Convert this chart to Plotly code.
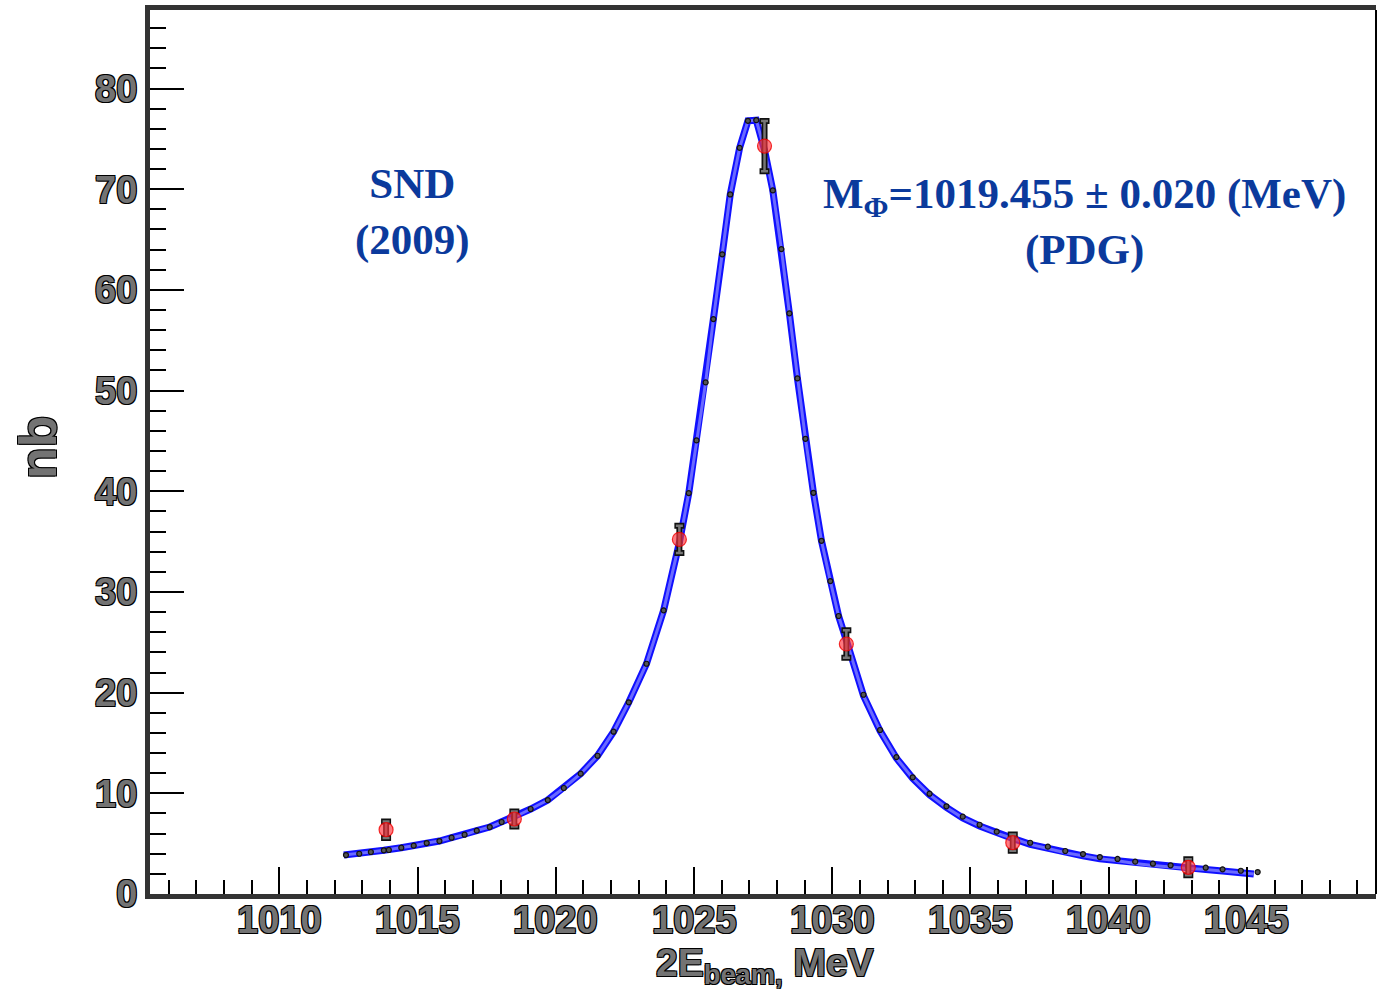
import plotly.graph_objects as go

# ---------------- data ----------------
# fit curve sample points (small dots)
dots_x = [1012.41, 1012.89, 1013.31, 1013.78, 1013.96, 1014.41, 1014.86, 1015.33, 1015.79, 1016.23,
          1016.70, 1017.14, 1017.61, 1018.04, 1018.48, 1019.09, 1019.71, 1020.29, 1020.90, 1021.51,
          1022.09, 1022.64, 1023.28, 1023.90, 1024.47, 1024.81, 1025.09, 1025.42, 1025.70, 1026.02,
          1026.31, 1026.65, 1026.95, 1027.25, 1027.55, 1027.85, 1028.16, 1028.45, 1028.74, 1029.03,
          1029.32, 1029.61, 1029.93, 1030.23, 1030.52, 1031.13, 1031.73, 1032.32, 1032.91, 1033.52,
          1034.13, 1034.72, 1035.33, 1035.95, 1036.55, 1037.16, 1037.80, 1038.43, 1039.07, 1039.68,
          1040.32, 1040.96, 1041.60, 1042.24, 1042.87, 1043.51, 1044.12, 1044.78, 1045.39]
dots_y = [3.87, 4.00, 4.17, 4.34, 4.37, 4.60, 4.80, 5.06, 5.26, 5.59,
          5.89, 6.29, 6.65, 7.15, 7.60, 8.44, 9.33, 10.53, 11.95, 13.73,
          16.12, 19.04, 22.87, 28.17, 34.90, 39.82, 45.05, 50.81, 57.10, 63.53,
          69.48, 74.11, 76.79, 76.86, 73.90, 69.88, 64.05, 57.67, 51.21, 45.21,
          39.85, 35.08, 31.08, 27.61, 25.20, 19.79, 16.29, 13.60, 11.59, 9.96,
          8.71, 7.68, 6.88, 6.19, 5.65, 5.09, 4.70, 4.27, 3.97, 3.67,
          3.48, 3.21, 3.01, 2.85, 2.70, 2.61, 2.45, 2.31, 2.18]

# fitted band (blue curve)
band_x = [1012.33, 1012.89, 1013.31, 1013.78, 1014.41, 1014.86, 1015.33, 1015.79, 1016.23,
          1016.70, 1017.14, 1017.61, 1018.04, 1018.48, 1019.09, 1019.71, 1020.29, 1020.90, 1021.51,
          1022.09, 1022.64, 1023.28, 1023.90, 1024.47, 1024.81, 1025.09, 1025.42, 1025.70, 1026.02,
          1026.31, 1026.65, 1026.95, 1027.25, 1027.55, 1027.85, 1028.16, 1028.45, 1028.74, 1029.03,
          1029.32, 1029.61, 1029.93, 1030.23, 1030.52, 1031.13, 1031.73, 1032.32, 1032.91, 1033.52,
          1034.13, 1034.72, 1035.33, 1035.95, 1036.55, 1037.16, 1037.80, 1038.43, 1039.07, 1039.68,
          1040.32, 1040.96, 1041.60, 1042.24, 1042.87, 1043.51, 1044.12, 1044.78, 1045.25]
band_y = [3.87, 4.00, 4.17, 4.34, 4.60, 4.80, 5.06, 5.26, 5.59,
          5.89, 6.29, 6.65, 7.15, 7.60, 8.44, 9.33, 10.53, 11.95, 13.73,
          16.12, 19.04, 22.87, 28.17, 34.90, 39.82, 45.05, 50.81, 57.10, 63.53,
          69.48, 74.11, 76.79, 76.86, 73.90, 69.88, 64.05, 57.67, 51.21, 45.21,
          39.85, 35.08, 31.08, 27.61, 25.10, 19.70, 16.20, 13.50, 11.49, 9.86,
          8.60, 7.56, 6.76, 6.05, 5.50, 4.93, 4.52, 4.09, 3.79, 3.49,
          3.30, 3.03, 2.84, 2.68, 2.53, 2.44, 2.28, 2.13, 1.99]

# SND measurements
data_x = [1013.86, 1018.50, 1024.47, 1027.55, 1030.51, 1036.53, 1042.88]
data_y = [6.39, 7.45, 35.22, 74.28, 24.83, 5.10, 2.65]
data_err = [0.82, 0.75, 1.35, 2.50, 1.37, 0.80, 0.80]

x_tickvals = [1010, 1015, 1020, 1025, 1030, 1035, 1040, 1045]
x_ticktext = ["1010", "1015", "1020", "1025", "1030", "1035", "1040", "1045"]
y_tickvals = [0, 10, 20, 30, 40, 50, 60, 70, 80]

# ---------------- figure ----------------
W, H = 1377, 989
L, R, T, B = 150, 1, 10, 95
PW, PH = W - L - R, H - T - B
outline = "-1px -1px 0 #000, 1px -1px 0 #000, -1px 1px 0 #000, 1px 1px 0 #000"
tickfont = dict(family="Liberation Sans, Arial", size=38, color="#737373", weight="bold", shadow=outline)

fig = go.Figure()

# blue band: outer edge + lighter interior
fig.add_trace(go.Scatter(x=band_x, y=band_y, mode="lines",
                         line=dict(color="#1010ff", width=7), hoverinfo="skip", showlegend=False))
fig.add_trace(go.Scatter(x=band_x, y=band_y, mode="lines",
                         line=dict(color="#6a6aff", width=3), hoverinfo="skip", showlegend=False))

# small dots on the curve
fig.add_trace(go.Scatter(x=dots_x, y=dots_y, mode="markers",
                         marker=dict(size=5, color="#555555", line=dict(color="#111111", width=1.2)),
                         showlegend=False))

# error bars (black outline + grey fill)
fig.add_trace(go.Scatter(x=data_x, y=data_y, mode="markers", marker=dict(size=1, opacity=0),
                         error_y=dict(type="data", array=data_err, color="#111111", thickness=6, width=5),
                         showlegend=False, hoverinfo="skip"))
fig.add_trace(go.Scatter(x=data_x, y=data_y, mode="markers", marker=dict(size=1, opacity=0),
                         error_y=dict(type="data", array=data_err, color="#777777", thickness=2.5, width=3.5),
                         showlegend=False, hoverinfo="skip"))

# red data points
fig.add_trace(go.Scatter(x=data_x, y=data_y, mode="markers",
                         marker=dict(size=14, color="rgba(255,50,60,0.65)",
                                     line=dict(color="rgba(240,0,0,0.8)", width=1.2)),
                         showlegend=False))

fig.update_layout(
    width=W, height=H,
    margin=dict(l=L, r=R, t=T, b=B),
    paper_bgcolor="white", plot_bgcolor="white",
    xaxis=dict(range=[1005.32, 1049.67], tickvals=x_tickvals, showticklabels=False,
               ticks="inside", ticklen=27, tickwidth=2, tickcolor="#000",
               minor=dict(dtick=1, tick0=1005, ticks="inside", ticklen=14, tickwidth=2, tickcolor="#000"),
               showgrid=False, zeroline=False,
               showline=True, linewidth=5, linecolor="#333333", mirror=True),
    yaxis=dict(range=[0, 87.8], tickvals=y_tickvals,
               ticks="inside", ticklen=34, tickwidth=2, tickcolor="#000",
               minor=dict(dtick=2, tick0=0, ticks="inside", ticklen=16, tickwidth=2, tickcolor="#000"),
               showgrid=False, zeroline=False,
               showline=True, linewidth=5, linecolor="#333333", mirror=False,
               tickfont=tickfont, ticklabelstandoff=0),
)

# x tick labels placed close under the axis (ROOT style)
for v, t in zip(x_tickvals, x_ticktext):
    fig.add_annotation(xref="x", yref="paper", x=v, y=0, yanchor="middle", xanchor="center",
                       yshift=-26, text=t, showarrow=False, font=tickfont)

# thin right frame border
fig.add_shape(type="line", xref="paper", yref="paper", x0=1, x1=1, y0=0, y1=1,
              line=dict(color="#000", width=2))

blue = "#0b3a9c"
serif = "Liberation Serif, Times New Roman, serif"
fig.add_annotation(xref="paper", yref="paper", x=(412 - L) / PW, y=(894 - 212) / PH,
                   xanchor="center", yanchor="middle",
                   text="SND<br>(2009)", showarrow=False, align="center",
                   font=dict(family=serif, size=43, color=blue, weight="bold"))
fig.add_annotation(xref="paper", yref="paper", x=(1084 - L) / PW, y=(894 - 222) / PH,
                   xanchor="center", yanchor="middle",
                   text="M<sub>Φ</sub>=1019.455 ± 0.020 (MeV)<br>(PDG)", showarrow=False, align="center",
                   font=dict(family=serif, size=43, color=blue, weight="bold"))

titlefont = dict(family="Liberation Sans, Arial", size=42, color="#737373", weight="bold", shadow=outline)
fig.add_annotation(xref="paper", yref="paper", x=(38 - L) / PW, y=(894 - 447) / PH,
                   xanchor="center", yanchor="middle",
                   text="nb", textangle=-90, showarrow=False,
                   font=dict(titlefont, size=52))
fig.add_annotation(xref="paper", yref="paper", x=(765 - L) / PW, y=(894 - 966) / PH,
                   xanchor="center", yanchor="middle",
                   text="2E<sub>beam,</sub> MeV", showarrow=False, font=dict(titlefont, size=39))

fig.write_html("out.html")
